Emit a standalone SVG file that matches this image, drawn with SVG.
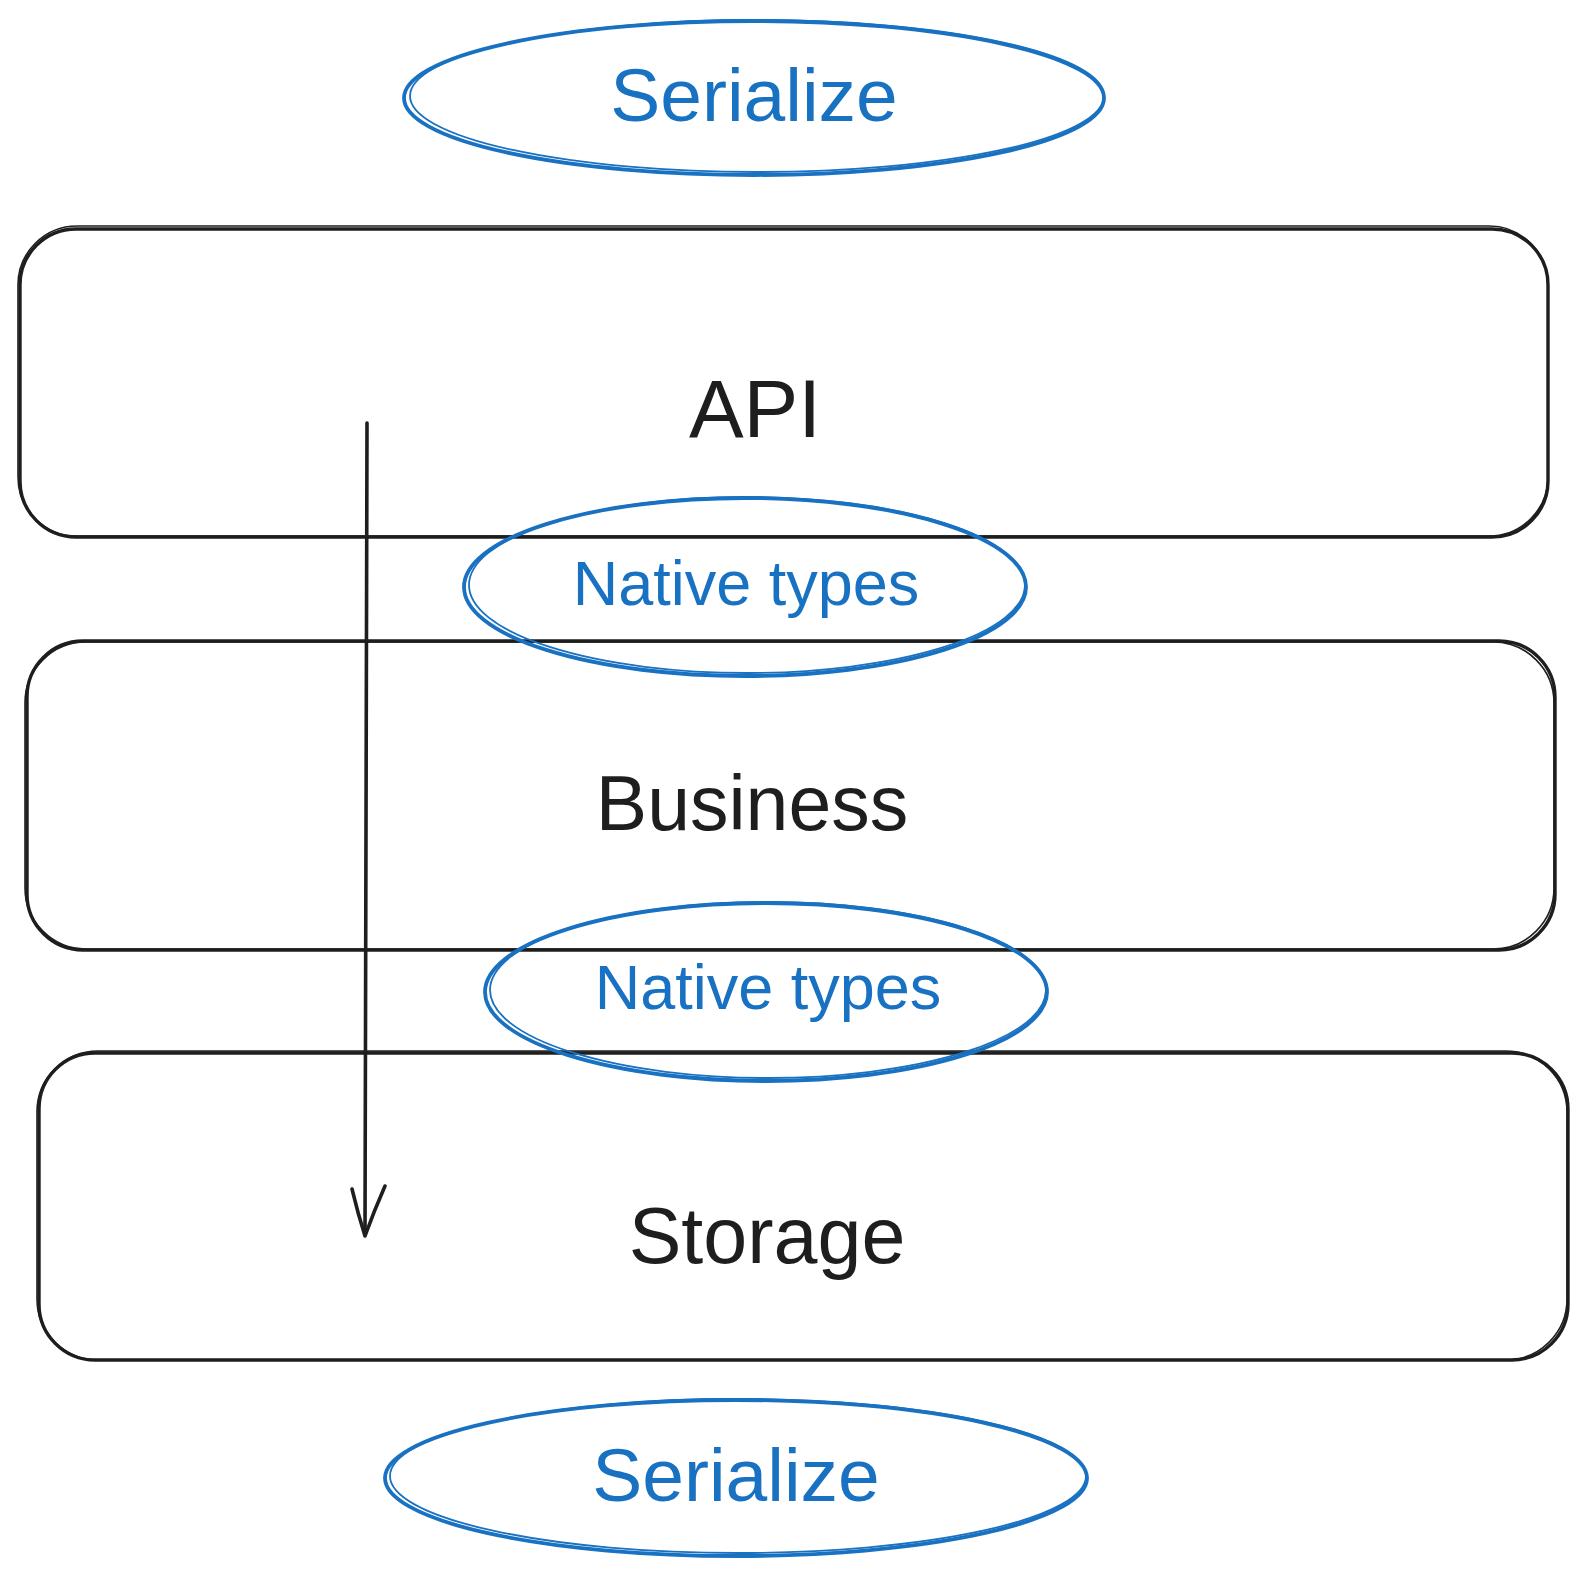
<svg xmlns="http://www.w3.org/2000/svg" width="1585" height="1576" viewBox="0 0 1585 1576">
<style>
.box{fill:none;stroke:#1e1e1e;stroke-width:3.4;stroke-linejoin:round}
.box2{fill:none;stroke:#1e1e1e;stroke-width:1.6}
.ell{fill:none;stroke:#1971c2;stroke-width:3.8}
.ell2{fill:none;stroke:#1971c2;stroke-width:1.8}
.lbl{font-family:"Liberation Sans",Arial,sans-serif;fill:#1e1e1e;text-anchor:middle}
.blue{font-family:"Liberation Sans",Arial,sans-serif;fill:#1971c2;text-anchor:middle}
.conn{fill:none;stroke:#1e1e1e;stroke-width:3.6;stroke-linecap:round;stroke-linejoin:round}
</style>
<rect width="1585" height="1576" fill="#ffffff"/>
<g id="api">
<rect class="box" x="20" y="229" width="1528" height="308" rx="56"/>
<rect class="box2" x="18" y="226" width="1530" height="310" rx="59"/>
<text class="lbl" x="755" y="437" font-size="82">API</text>
</g>
<g id="business">
<rect class="box" x="27" y="641" width="1528" height="309" rx="56"/>
<rect class="box2" x="25" y="642" width="1529" height="307" rx="61"/>
<text class="lbl" x="752" y="830" font-size="77">Business</text>
</g>
<g id="storage">
<rect class="box" x="39" y="1053" width="1529" height="307" rx="56"/>
<rect class="box2" x="37" y="1051" width="1530" height="309" rx="61"/>
<text class="lbl" x="767" y="1263" font-size="79">Storage</text>
</g>
<g id="serialize-top">
<ellipse class="ell" cx="754" cy="98" rx="350" ry="77"/>
<ellipse class="ell2" cx="757" cy="96" rx="347" ry="76"/>
<text class="blue" x="754" y="121" font-size="75">Serialize</text>
</g>
<g id="native-1">
<ellipse class="ell" cx="745" cy="587" rx="281" ry="89"/>
<ellipse class="ell2" cx="747" cy="585" rx="278" ry="88"/>
<text class="blue" x="746" y="605" font-size="63">Native types</text>
</g>
<g id="native-2">
<ellipse class="ell" cx="766" cy="992" rx="281" ry="89"/>
<ellipse class="ell2" cx="768" cy="990" rx="278" ry="88"/>
<text class="blue" x="768" y="1009" font-size="63">Native types</text>
</g>
<g id="serialize-bottom">
<ellipse class="ell" cx="736" cy="1478" rx="351" ry="78"/>
<ellipse class="ell2" cx="738" cy="1476" rx="348" ry="77"/>
<text class="blue" x="736" y="1501" font-size="75">Serialize</text>
</g>
<g id="connectors">
<path class="conn" d="M367 423 L365 1235"/>
<path class="conn" d="M352 1189 Q358 1214 365 1236 Q374 1211 385 1186"/>
</g>
</svg>
